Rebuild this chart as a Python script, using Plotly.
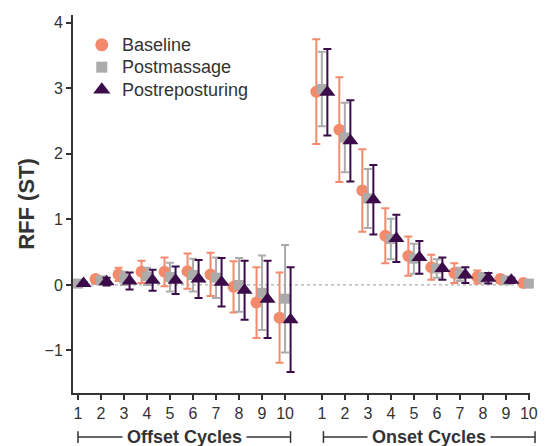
import plotly.graph_objects as go

# Cycle labels and positions: offset cycles 1-10, then onset cycles 1-10 after a gap
offset_cycles = [1, 2, 3, 4, 5, 6, 7, 8, 9, 10]
onset_cycles = [1, 2, 3, 4, 5, 6, 7, 8, 9, 10]
tick_labels = [str(c) for c in offset_cycles + onset_cycles]

# Mean RFF (ST) per cycle: offset cycles then onset cycles
baseline_mean = [0.03, 0.09, 0.16, 0.20, 0.20, 0.21, 0.16, -0.03, -0.27, -0.50,
                 2.95, 2.37, 1.44, 0.75, 0.44, 0.27, 0.18, 0.12, 0.09, 0.03]
baseline_sd = [0.02, 0.05, 0.10, 0.17, 0.22, 0.27, 0.33, 0.39, 0.54, 0.69,
               0.80, 0.80, 0.63, 0.42, 0.30, 0.19, 0.15, 0.10, 0.05, 0.02]

postmassage_mean = [0.02, 0.07, 0.10, 0.13, 0.12, 0.15, 0.11, 0.00, -0.12, -0.21,
                    2.99, 2.25, 1.32, 0.70, 0.40, 0.25, 0.16, 0.11, 0.07, 0.02]
postmassage_sd = [0.02, 0.04, 0.10, 0.13, 0.22, 0.25, 0.31, 0.41, 0.57, 0.82,
                  0.57, 0.53, 0.45, 0.31, 0.23, 0.14, 0.10, 0.07, 0.04, 0.02]

postrep_mean = [0.02, 0.05, 0.06, 0.07, 0.07, 0.09, 0.04, -0.08, -0.22, -0.53,
                2.94, 2.20, 1.30, 0.71, 0.42, 0.25, 0.15, 0.10, 0.07, 0.03]
postrep_sd = [0.02, 0.06, 0.13, 0.16, 0.21, 0.29, 0.37, 0.45, 0.59, 0.80,
              0.66, 0.62, 0.53, 0.36, 0.25, 0.17, 0.12, 0.08, 0.04, 0.02]

GAP = 0.6
positions = offset_cycles + [10 + GAP + c for c in onset_cycles]
dodge = 0.24

series = [
    ("Baseline", baseline_mean, baseline_sd, -dodge, "circle", 12, "#F38A6C"),
    ("Postmassage", postmassage_mean, postmassage_sd, 0.0, "square", 10, "#ABABAB"),
    ("Postreposturing", postrep_mean, postrep_sd, dodge, "triangle-up", 14, "#3C0C4A"),
]

fig = go.Figure()
for name, mean, sd, shift, symbol, size, color in series:
    fig.add_trace(go.Scatter(
        x=[p + shift for p in positions],
        y=mean,
        mode="markers",
        name=name,
        marker=dict(symbol=symbol, size=size, color=color, line=dict(width=0)),
        error_y=dict(type="data", array=sd, visible=True, color=color,
                     thickness=2, width=4),
        cliponaxis=False,
        showlegend=False,
    ))

# Key in the upper-left corner, drawn on a hidden unit overlay axis
key_x, key_text_x = 0.063, 0.103
key_rows = [0.921, 0.862, 0.802]
for (name, _, _, _, symbol, size, color), ky in zip(series, key_rows):
    fig.add_trace(go.Scatter(
        x=[key_x], y=[ky], xaxis="x2", yaxis="y2", mode="markers",
        marker=dict(symbol=symbol, size=size + 1, color=color, line=dict(width=0)),
        showlegend=False, hoverinfo="skip", cliponaxis=False,
    ))
    fig.add_annotation(xref="paper", yref="paper", x=key_text_x, y=ky,
                       text=name, showarrow=False, xanchor="left", yanchor="middle",
                       font=dict(size=18, color="#333333"))

font_family = "Liberation Sans, Arial, sans-serif"

fig.update_layout(
    width=550, height=446,
    margin=dict(l=73, r=17, t=15, b=53),
    paper_bgcolor="white", plot_bgcolor="white",
    font=dict(family=font_family, size=16, color="#333333"),
    showlegend=False,
    xaxis=dict(
        range=[0.78, 20.65], showgrid=False, zeroline=False,
        showline=True, linecolor="#333333", linewidth=2,
        ticks="outside", ticklen=5, tickwidth=1.5, tickcolor="#333333",
        tickvals=positions, ticktext=tick_labels,
        tickfont=dict(size=16, color="#333333"),
    ),
    yaxis=dict(
        range=[-1.65, 4.12], showgrid=False, zeroline=False,
        showline=True, linecolor="#333333", linewidth=2,
        ticks="outside", ticklen=5, tickwidth=1.5, tickcolor="#333333",
        tickvals=[-1, 0, 1, 2, 3, 4],
        tickfont=dict(size=16, color="#333333"),
        title=dict(text="<b>RFF (ST)</b>", font=dict(size=22, color="#333333"),
                   standoff=4),
    ),
    xaxis2=dict(range=[0, 1], overlaying="x", visible=False, fixedrange=True),
    yaxis2=dict(range=[0, 1], overlaying="y", visible=False, fixedrange=True),
)

# dotted reference line at zero
fig.add_shape(type="line", xref="paper", yref="y", x0=0, x1=1, y0=0, y1=0,
              line=dict(color="#999999", width=1, dash="dot"), layer="below")

# bracket labels under the axis
line_y = -0.1164
cap_lo, cap_hi = -0.132, -0.101
brackets = [("Offset Cycles", 0.0109, 0.476), ("Onset Cycles", 0.548, 1.011)]
for label, xa, xb in brackets:
    fig.add_shape(type="line", xref="paper", yref="paper", x0=xa, x1=xb,
                  y0=line_y, y1=line_y, line=dict(color="#333333", width=1.5))
    for xc in (xa, xb):
        fig.add_shape(type="line", xref="paper", yref="paper", x0=xc, x1=xc,
                      y0=cap_lo, y1=cap_hi, line=dict(color="#333333", width=1.5))
    fig.add_annotation(xref="paper", yref="paper", x=(xa + xb) / 2, y=line_y,
                       text=f"<b>{label}</b>", showarrow=False,
                       font=dict(size=18, color="#333333"),
                       bgcolor="white", borderpad=4,
                       xanchor="center", yanchor="middle")

fig.write_html("out.html")
